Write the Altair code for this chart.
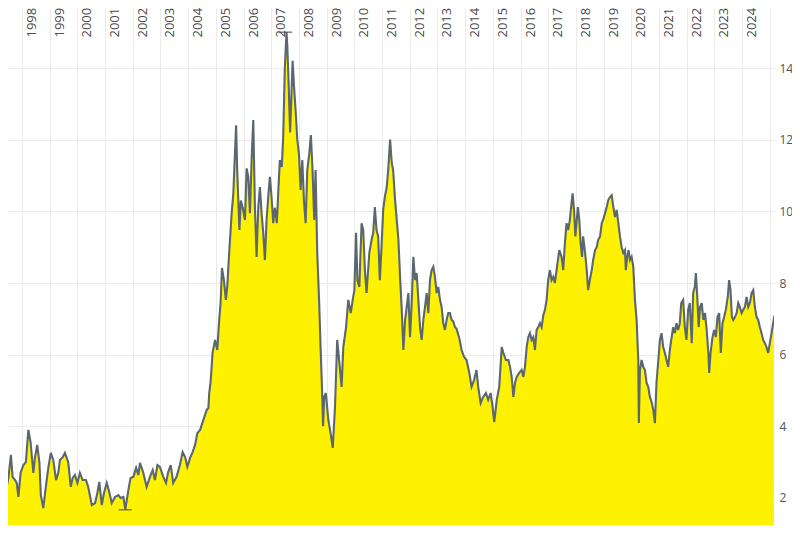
import altair as alt
import pandas as pd

years = [
    1997.21, 1997.39, 1997.51, 1997.60, 1997.66, 1997.75, 1997.81, 1997.87, 1997.95,
    1998.05, 1998.14, 1998.23, 1998.31, 1998.41, 1998.47, 1998.55, 1998.63, 1998.68, 1998.77, 1998.86, 1998.95,
    1999.04, 1999.13, 1999.23, 1999.31, 1999.37, 1999.47, 1999.55, 1999.67, 1999.76, 1999.83, 1999.91,
    2000.00, 2000.09, 2000.19, 2000.31, 2000.39, 2000.52, 2000.64, 2000.72, 2000.79, 2000.88, 2000.96,
    2001.06, 2001.15, 2001.24, 2001.36, 2001.48, 2001.56, 2001.66, 2001.73, 2001.84, 2001.92,
    2002.02, 2002.12, 2002.20, 2002.26, 2002.38, 2002.50, 2002.62, 2002.72, 2002.80, 2002.89, 2002.98,
    2003.10, 2003.20, 2003.28, 2003.37, 2003.46, 2003.58, 2003.70, 2003.80, 2003.89, 2003.97,
    2004.07, 2004.16, 2004.25, 2004.33, 2004.43, 2004.51, 2004.57, 2004.67, 2004.73, 2004.76, 2004.81, 2004.88, 2004.97,
    2005.05, 2005.12, 2005.17, 2005.22, 2005.29, 2005.36, 2005.41, 2005.48, 2005.57, 2005.63, 2005.73, 2005.77, 2005.85, 2005.90, 2005.97,
    2006.05, 2006.11, 2006.17, 2006.23, 2006.29, 2006.35, 2006.41, 2006.47, 2006.53, 2006.59, 2006.65, 2006.71, 2006.77, 2006.83, 2006.89, 2006.95,
    2007.01, 2007.07, 2007.13, 2007.20, 2007.25, 2007.31, 2007.38, 2007.43, 2007.49, 2007.55, 2007.58, 2007.63, 2007.68, 2007.74, 2007.77, 2007.82, 2007.88, 2007.94,
    2008.00, 2008.06, 2008.12, 2008.18, 2008.24, 2008.30, 2008.37, 2008.43, 2008.49, 2008.55, 2008.60, 2008.66, 2008.73, 2008.78, 2008.83, 2008.87, 2008.91, 2008.97,
    2009.06, 2009.14, 2009.22, 2009.30, 2009.38, 2009.45, 2009.54, 2009.60, 2009.70, 2009.78, 2009.87, 2009.94,
    2010.00, 2010.06, 2010.11, 2010.18, 2010.26, 2010.32, 2010.38, 2010.44, 2010.54, 2010.62, 2010.68, 2010.74, 2010.80, 2010.86, 2010.92, 2010.98,
    2011.04, 2011.10, 2011.17, 2011.22, 2011.29, 2011.35, 2011.40, 2011.47, 2011.53, 2011.59, 2011.65, 2011.71, 2011.77, 2011.83, 2011.89, 2011.95,
    2012.01, 2012.07, 2012.13, 2012.19, 2012.25, 2012.31, 2012.37, 2012.43, 2012.49, 2012.55, 2012.61, 2012.67, 2012.73, 2012.79, 2012.85, 2012.91, 2012.97,
    2013.03, 2013.09, 2013.15, 2013.21, 2013.27, 2013.33, 2013.39, 2013.45, 2013.51, 2013.57, 2013.63, 2013.69, 2013.79, 2013.87, 2013.96,
    2014.05, 2014.15, 2014.23, 2014.32, 2014.41, 2014.47, 2014.56, 2014.65, 2014.75, 2014.83, 2014.92, 2014.99,
    2015.05, 2015.14, 2015.23, 2015.32, 2015.38, 2015.47, 2015.56, 2015.62, 2015.68, 2015.74, 2015.80, 2015.86, 2015.95,
    2016.04, 2016.10, 2016.16, 2016.22, 2016.28, 2016.34, 2016.40, 2016.46, 2016.52, 2016.58, 2016.64, 2016.70, 2016.76, 2016.82, 2016.88, 2016.94,
    2017.00, 2017.06, 2017.12, 2017.18, 2017.24, 2017.30, 2017.40, 2017.48, 2017.54, 2017.60, 2017.66, 2017.72, 2017.78, 2017.84, 2017.88, 2017.93, 2017.98,
    2018.02, 2018.07, 2018.12, 2018.17, 2018.22, 2018.26, 2018.33, 2018.39, 2018.44, 2018.50, 2018.57, 2018.62, 2018.69, 2018.75, 2018.80, 2018.87, 2018.93, 2018.98,
    2019.05, 2019.11, 2019.17, 2019.23, 2019.29, 2019.35, 2019.41, 2019.47, 2019.53, 2019.59, 2019.65, 2019.71, 2019.77, 2019.80, 2019.85, 2019.90, 2019.95,
    2020.01, 2020.07, 2020.13, 2020.19, 2020.25, 2020.27, 2020.31, 2020.37, 2020.43, 2020.49, 2020.55, 2020.61, 2020.67, 2020.74, 2020.79, 2020.85, 2020.91, 2020.97,
    2021.03, 2021.09, 2021.15, 2021.21, 2021.27, 2021.33, 2021.39, 2021.44, 2021.51, 2021.57, 2021.63, 2021.69, 2021.75, 2021.80, 2021.87, 2021.93, 2021.99,
    2022.05, 2022.11, 2022.18, 2022.23, 2022.29, 2022.33, 2022.38, 2022.43, 2022.48, 2022.54, 2022.60, 2022.66, 2022.72, 2022.78, 2022.81, 2022.86, 2022.93, 2022.99,
    2023.05, 2023.11, 2023.17, 2023.23, 2023.29, 2023.35, 2023.41, 2023.48, 2023.53, 2023.58, 2023.63, 2023.68, 2023.74, 2023.80, 2023.86, 2023.92, 2023.98,
    2024.04, 2024.10, 2024.16, 2024.22, 2024.28, 2024.34, 2024.40, 2024.46, 2024.52, 2024.58, 2024.64, 2024.70, 2024.76, 2024.82, 2024.88, 2024.94,
    2025.00, 2025.06, 2025.12, 2025.17,
]

prices = [
    1.76, 2.08, 2.56, 3.20, 2.59, 2.50, 2.42, 2.03, 2.70,
    2.92, 3.00, 3.90, 3.56, 2.70, 3.14, 3.48, 2.98, 2.08, 1.72, 2.31, 2.84,
    3.26, 3.06, 2.50, 2.70, 3.06, 3.14, 3.26, 3.00, 2.31, 2.56, 2.64,
    2.42, 2.70, 2.50, 2.50, 2.31, 1.80, 1.86, 2.14, 2.45, 1.80, 2.14,
    2.42, 2.17, 1.86, 2.03, 2.08, 2.00, 2.03, 1.68, 2.22, 2.56,
    2.59, 2.84, 2.64, 2.98, 2.70, 2.31, 2.59, 2.78, 2.50, 2.92, 2.87,
    2.59, 2.42, 2.73, 2.92, 2.42, 2.59, 2.92, 3.28, 3.14, 2.87,
    3.12, 3.28, 3.48, 3.81, 3.90, 4.09, 4.23, 4.46, 4.51, 4.93, 5.25, 6.05, 6.41,
    6.13, 6.97, 7.44, 8.42, 8.08, 7.53, 7.89, 8.84, 9.95, 10.50, 12.40, 11.15, 9.48, 10.30, 10.10,
    9.76, 11.20, 10.96, 9.95, 11.43, 12.55, 10.10, 8.73, 10.10, 10.68, 9.95, 9.40, 8.64, 9.76, 10.40, 10.96,
    10.40, 9.67, 10.10, 9.67, 10.50, 11.43, 11.24, 12.07, 14.03, 15.00, 14.60, 13.50, 12.20, 13.50, 14.20, 13.50, 12.80, 12.00,
    11.60, 10.60, 11.43, 10.30, 9.67, 11.15, 11.60, 12.13, 11.15, 9.76, 11.15, 8.84, 7.44, 6.21, 5.10, 4.00, 4.82, 4.93,
    4.18, 3.81, 3.40, 4.54, 6.41, 5.85, 5.10, 6.21, 6.77, 7.53, 7.16, 7.53,
    7.80, 9.40, 8.08, 7.89, 9.67, 9.48, 8.36, 7.72, 8.84, 9.20, 9.40, 10.12, 9.48, 9.30, 8.08, 9.00,
    10.04, 10.40, 10.68, 11.15, 12.00, 11.35, 11.15, 10.32, 9.76, 9.20, 8.17, 7.25, 6.13, 6.97, 7.33, 7.72,
    6.49, 7.44, 8.73, 8.08, 8.28, 7.53, 6.77, 6.41, 6.97, 7.33, 7.72, 7.16, 8.08, 8.36, 8.45, 8.17, 7.72,
    7.89, 7.53, 7.33, 6.88, 6.69, 6.97, 7.16, 7.16, 6.97, 6.93, 6.77, 6.72, 6.45, 6.13, 5.94,
    5.85, 5.49, 5.10, 5.29, 5.57, 5.10, 4.65, 4.82, 4.93, 4.74, 4.93, 4.54,
    4.12, 4.74, 5.10, 6.21, 6.05, 5.85, 5.85, 5.66, 5.38, 4.82, 5.21, 5.38, 5.49,
    5.57, 5.38, 5.66, 6.21, 6.49, 6.60, 6.41, 6.49, 6.13, 6.69, 6.77, 6.88, 6.77, 7.10, 7.25, 7.53,
    8.10, 8.36, 8.08, 8.17, 8.00, 8.36, 8.92, 8.73, 8.36, 9.10, 9.67, 9.48, 9.76, 10.23, 10.50, 10.04, 9.30,
    9.67, 10.12, 9.76, 9.10, 8.73, 9.30, 8.84, 8.36, 7.80, 8.08, 8.36, 8.64, 8.92, 9.00, 9.20, 9.30, 9.67, 9.76,
    9.95, 10.12, 10.32, 10.40, 10.45, 10.12, 9.84, 10.04, 9.67, 9.30, 9.00, 8.84, 8.92, 8.36, 8.73, 8.92, 8.64,
    8.73, 8.45, 7.53, 6.97, 5.85, 4.09, 5.57, 5.85, 5.66, 5.57, 5.21, 5.10, 4.82, 4.65, 4.46, 4.09, 5.25, 5.80,
    6.41, 6.60, 6.21, 6.05, 5.85, 5.66, 6.13, 6.41, 6.77, 6.60, 6.88, 6.69, 6.88, 7.44, 7.53, 6.77, 6.41,
    7.25, 7.44, 6.32, 7.72, 7.89, 8.28, 7.61, 6.77, 7.33, 7.44, 6.97, 7.16, 6.69, 6.05, 5.49, 6.05, 6.49, 6.69,
    6.49, 7.05, 7.16, 6.05, 6.88, 7.05, 7.25, 7.61, 8.08, 7.80, 7.05, 6.97, 7.05, 7.16, 7.44, 7.33, 7.16,
    7.25, 7.33, 7.61, 7.33, 7.44, 7.72, 7.80, 7.33, 7.05, 6.97, 6.77, 6.60, 6.41, 6.32, 6.21, 6.05,
    6.32, 6.60, 6.88, 7.10,
]

# all-time low and high markers
extreme_years = [2001.73, 2007.52]
extreme_prices = [1.67, 15.0]

year_ticks = list(range(1998, 2026))
price_ticks = [2, 4, 6, 8, 10, 12, 14]

df = pd.DataFrame({"year": years, "price": prices})
ext = pd.DataFrame({"year": extreme_years, "price": extreme_prices})

x_scale = alt.Scale(domain=[1997.495, 2025.15], nice=False, zero=False)
y_scale = alt.Scale(domain=[1.246, 15.675], nice=False, zero=False)

x_axis = alt.Axis(
    orient="top", values=year_ticks, title=None,
    labelAngle=-90, labelAlign="left", labelBaseline="middle",
    labelPadding=-29, labelOffset=9.5, ticks=False, tickSize=0, domain=False,
    grid=True, gridColor="#ebebeb", gridWidth=1,
    labelExpr="datum.value < 2025 ? toString(datum.value) : ''",
    labelFont="Open Sans", labelFontSize=13, labelColor="#4a4a4a",
    labelOverlap=False, labelFlush=False, labelBound=False,
)
y_axis = alt.Axis(
    orient="right", values=price_ticks, title=None,
    ticks=False, tickSize=0, domain=False, labelPadding=5,
    grid=True, gridColor="#ebebeb", gridWidth=1,
    labelFont="Open Sans", labelFontSize=12, labelColor="#555555",
    labelOverlap=False, labelFlush=False,
)

X = alt.X("year:Q", scale=x_scale, axis=x_axis)
Y = alt.Y("price:Q", scale=y_scale, axis=y_axis)

base = alt.Chart(df).encode(x=X, y=Y)
area = base.mark_area(color="#fff200", clip=True)
line = base.mark_line(color="#5b6770", strokeWidth=2.1, clip=True)
marks = alt.Chart(ext).mark_tick(
    orient="horizontal", size=13, thickness=1.3, color="#333333"
).encode(x=X, y=Y)

chart = alt.layer(area, line, marks).properties(
    width=766, height=517,
    padding={"left": 0, "top": 0, "right": 18, "bottom": 0},
    autosize=alt.AutoSizeParams(type="none"),
    background="white",
).configure_view(stroke=None)

chart.save("out.html", embed_options={"renderer": "svg", "actions": False})
